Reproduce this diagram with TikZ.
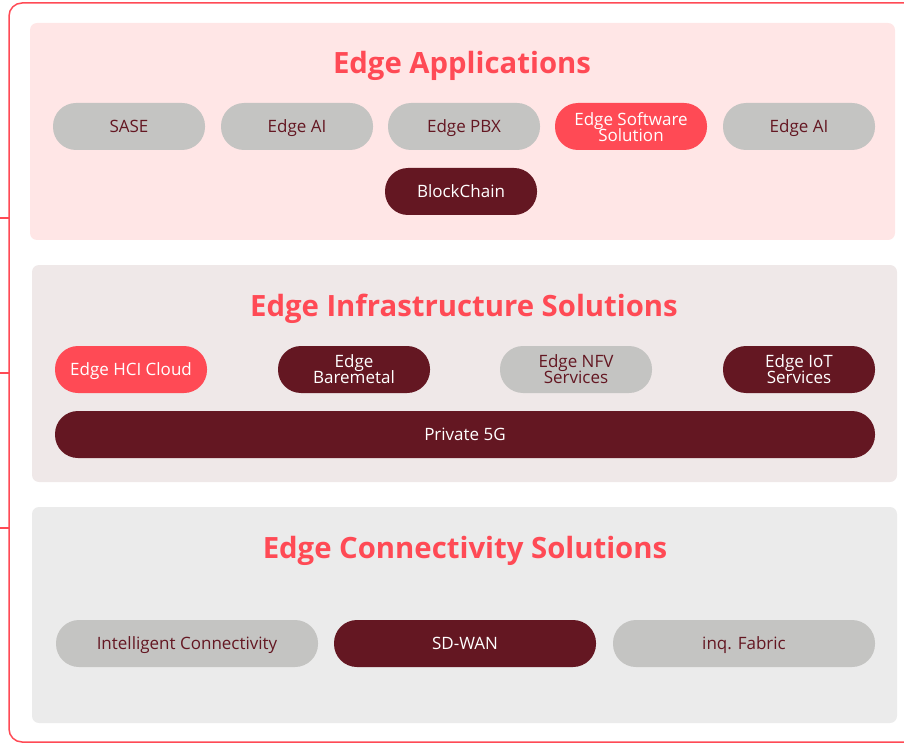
\documentclass[tikz,border=0pt]{standalone}
\usepackage{fontspec}
\setmainfont{Open Sans}
\definecolor{edgered}{HTML}{FF4A55}
\definecolor{maroon}{HTML}{641722}
\definecolor{pillgrey}{HTML}{C4C4C2}
\definecolor{apppink}{HTML}{FFE6E6}
\definecolor{infragrey}{HTML}{EFE8E8}
\definecolor{conngrey}{HTML}{EBEBEB}
\newcommand{\pillfont}{\fontsize{17}{16}\selectfont\setlength{\lineskiplimit}{-20pt}}

\begin{document}
\begin{tikzpicture}[x=1pt,y=-1pt]
    \tikzset{% styles for panels and pills
    frame/.style={draw=edgered, line width=1.5pt},
    panel/.style={rounded corners=7pt},
    title/.style={anchor=base, text=edgered, font=\fontsize{29.3}{32}\selectfont\bfseries},
    pill/.style={rounded corners=23pt, minimum width=152pt, minimum height=47pt,
        inner sep=0pt, align=center, text depth=0pt, font=\pillfont},
    greypill/.style={pill, fill=pillgrey, text=maroon},
    darkpill/.style={pill, fill=maroon, text=white},
    redpill/.style={pill, fill=edgered, text=white},
    }
    \useasboundingbox (0,0) rectangle (904,743);

    % Frame
    \draw[frame, rounded corners=13pt] (904,3) -- (9,3) -- (9,742) -- (904,742);
    \draw[frame] (0,218) -- (9,218);
    \draw[frame] (0,373) -- (9,373);
    \draw[frame] (0,528) -- (9,528);

    % Panels
    \fill[panel, apppink] (30,23) rectangle (895,240);
    \fill[panel, infragrey] (32,265) rectangle (897,482);
    \fill[panel, conngrey] (32,507) rectangle (897,723);

    % Titles
    \node[title] (tapp) at (462,73.5) {Edge Applications};
    \node[title] (tinfra) at (464,316) {Edge Infrastructure Solutions};
    \node[title] (tconn) at (465,558.5) {Edge Connectivity Solutions};

    % Applications
    \node[greypill] (sase) at (129,126.5) {SASE};
    \node[greypill] (ai1) at (297,126.5) {Edge AI};
    \node[greypill] (pbx) at (464,126.5) {Edge PBX};
    \node[redpill] (soft) at (631,126.5) {Edge Software\\Solution};
    \node[greypill] (ai2) at (799,126.5) {Edge AI};
    \node[darkpill] (chain) at (461,191.5) {BlockChain};

    % Infrastructure
    \node[redpill] (hci) at (131,369.5) {Edge HCI Cloud};
    \node[darkpill] (metal) at (354,369.5) {Edge\\Baremetal};
    \node[greypill] (nfv) at (576,369.5) {Edge NFV\\Services};
    \node[darkpill] (iot) at (799,369.5) {Edge IoT\\Services};
    \node[darkpill, minimum width=820pt] (fiveg) at (465,434.5) {Private 5G};

    % Connectivity
    \node[greypill, minimum width=262pt] (conn) at (187,643.5) {Intelligent Connectivity};
    \node[darkpill, minimum width=262pt] (sdwan) at (465,643.5) {SD-WAN};
    \node[greypill, minimum width=262pt] (fabric) at (744,643.5) {inq. Fabric};

\end{tikzpicture}
\end{document}
